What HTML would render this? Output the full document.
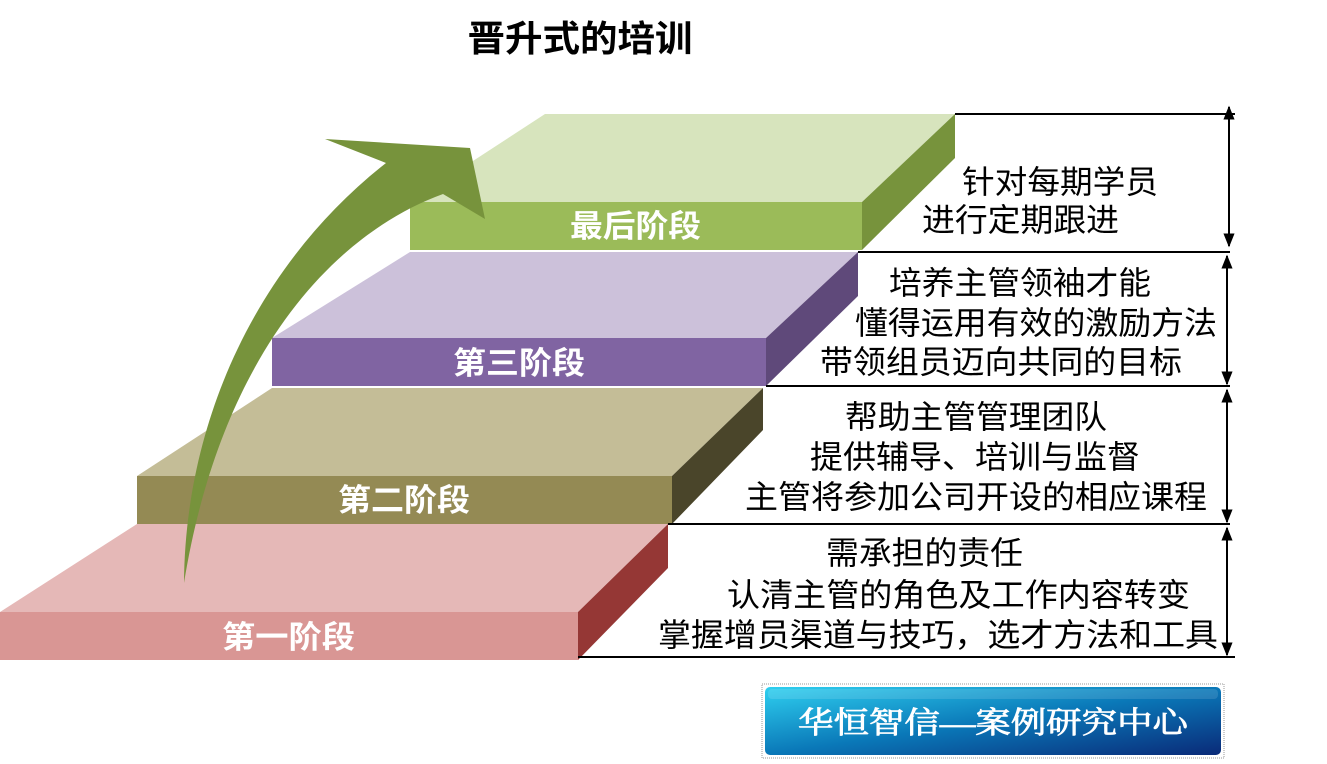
<!DOCTYPE html>
<html><head><meta charset="utf-8"><style>
html,body{margin:0;padding:0;background:#fff;}
svg{display:block;}
text{font-family:"Liberation Sans","Noto Sans CJK SC",sans-serif;}
</style></head><body>
<svg width="1327" height="764" viewBox="0 0 1327 764" xmlns="http://www.w3.org/2000/svg">
<defs>
<linearGradient id="lg" x1="0" y1="0" x2="1" y2="1">
<stop offset="0" stop-color="#2fd0f0"/><stop offset="0.5" stop-color="#0a78b8"/><stop offset="1" stop-color="#0a2a78"/>
</linearGradient>
<marker id="ah" viewBox="0 0 10 10" refX="9" refY="5" markerWidth="7" markerHeight="7" orient="auto-start-reverse"><path d="M0,1 L10,5 L0,9 Z" fill="#000"/></marker>
</defs>
<text x="580" y="51" font-size="36" font-weight="bold" text-anchor="middle" textLength="225" lengthAdjust="spacingAndGlyphs">晋升式的培训</text>

<polygon points="0,612 137,524 668,524 578,612" fill="#e5b8b7"/>
<polygon points="578,612 668,524 668,568 578,660" fill="#953735"/>
<rect x="0" y="612" width="578" height="48" fill="#d99694"/>
<polygon points="137,476 272,388 763,388 672,476" fill="#c4bd97"/>
<polygon points="672,476 763,388 763,430 672,524" fill="#4a452a"/>
<rect x="137" y="476" width="535" height="48" fill="#948a54"/>
<polygon points="272,338 410,252 858,252 766,338" fill="#ccc1da"/>
<polygon points="766,338 858,252 858,296 766,386" fill="#5f497a"/>
<rect x="272" y="338" width="494" height="48" fill="#8064a2"/>
<polygon points="410,202 545,114 955,114 862,202" fill="#d7e4bd"/>
<polygon points="862,202 955,114 955,158 862,250" fill="#77933c"/>
<rect x="410" y="202" width="452" height="48" fill="#9bbb59"/>

<g fill="#fff" font-size="31" font-weight="bold">
<text x="570" y="237" textLength="131" lengthAdjust="spacingAndGlyphs">最后阶段</text>
<text x="453" y="374" textLength="132" lengthAdjust="spacingAndGlyphs">第三阶段</text>
<text x="338" y="511" textLength="132" lengthAdjust="spacingAndGlyphs">第二阶段</text>
<text x="222" y="648" textLength="133" lengthAdjust="spacingAndGlyphs">第一阶段</text>
</g>

<path d="M184,583 C185,430 250,270 386,163 L325,139 L470,148 L485,219 L443,194 C330,235 220,360 184,583 Z" fill="#77933c"/>

<g stroke="#000" stroke-width="2">
<line x1="955" y1="114" x2="1235" y2="114"/>
<line x1="858" y1="252" x2="1230" y2="252"/>
<line x1="766" y1="386" x2="1230" y2="386"/>
<line x1="668" y1="524" x2="1230" y2="524"/>
<line x1="578" y1="657" x2="1235" y2="657"/>
<line x1="1229" y1="107" x2="1229" y2="246" marker-start="url(#ah)" marker-end="url(#ah)"/>
<line x1="1227" y1="256" x2="1227" y2="384" marker-start="url(#ah)" marker-end="url(#ah)"/>
<line x1="1227" y1="390" x2="1227" y2="522" marker-start="url(#ah)" marker-end="url(#ah)"/>
<line x1="1227" y1="528" x2="1227" y2="655" marker-start="url(#ah)" marker-end="url(#ah)"/>
</g>

<g fill="#000" font-size="32">
<text x="962" y="193" textLength="196" lengthAdjust="spacingAndGlyphs">针对每期学员</text>
<text x="922" y="231" textLength="197" lengthAdjust="spacingAndGlyphs">进行定期跟进</text>
<text x="889" y="294" textLength="262" lengthAdjust="spacingAndGlyphs">培养主管领袖才能</text>
<text x="855" y="334" textLength="362" lengthAdjust="spacingAndGlyphs">懂得运用有效的激励方法</text>
<text x="820" y="373" textLength="362" lengthAdjust="spacingAndGlyphs">带领组员迈向共同的目标</text>
<text x="845" y="428" textLength="262" lengthAdjust="spacingAndGlyphs">帮助主管管理团队</text>
<text x="810" y="468" textLength="330" lengthAdjust="spacingAndGlyphs">提供辅导、培训与监督</text>
<text x="745" y="508" textLength="462" lengthAdjust="spacingAndGlyphs">主管将参加公司开设的相应课程</text>
<text x="826" y="564" textLength="197" lengthAdjust="spacingAndGlyphs">需承担的责任</text>
<text x="727" y="606" textLength="463" lengthAdjust="spacingAndGlyphs">认清主管的角色及工作内容转变</text>
<text x="658" y="646" textLength="560" lengthAdjust="spacingAndGlyphs">掌握增员渠道与技巧，选才方法和工具</text>
</g>

<rect x="762" y="684" width="462" height="74" fill="none" stroke="#999" stroke-width="1" stroke-dasharray="1,1"/>
<rect x="765" y="687" width="456" height="68" rx="5" fill="url(#lg)"/>
<rect x="768" y="689" width="450" height="10" rx="4" fill="#fff" opacity="0.12"/>
<text x="993" y="733" fill="#fff" stroke="#fff" stroke-width="0.8" font-size="30" text-anchor="middle" textLength="390" lengthAdjust="spacingAndGlyphs" style="font-family:'Liberation Serif','Noto Serif CJK SC',serif">华恒智信—案例研究中心</text>
</svg>
</body></html>
